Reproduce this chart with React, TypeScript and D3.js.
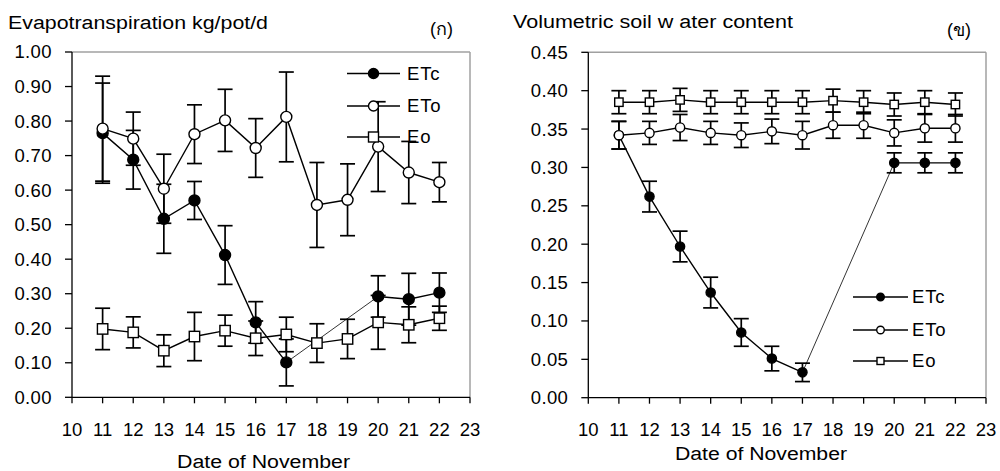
import React from "react";
import * as d3 from "d3";

// ---------- data ----------
const dayTicks = [10, 11, 12, 13, 14, 15, 16, 17, 18, 19, 20, 21, 22, 23];
const allDays = [11, 12, 13, 14, 15, 16, 17, 18, 19, 20, 21, 22];
const etcDays = [11, 12, 13, 14, 15, 16, 17, 20, 21, 22];

// Panel (ก) evapotranspiration kg/pot/d
const etTicks = [0, 0.1, 0.2, 0.3, 0.4, 0.5, 0.6, 0.7, 0.8, 0.9, 1.0];
const etcET = [0.765, 0.688, 0.517, 0.57, 0.412, 0.217, 0.101, 0.292, 0.284, 0.303];
const etcETErr = [0.145, 0.085, 0.1, 0.055, 0.085, 0.06, 0.068, 0.06, 0.075, 0.057];
const etoET = [0.778, 0.749, 0.604, 0.762, 0.802, 0.722, 0.812, 0.557, 0.572, 0.726, 0.651, 0.623];
const etoETErr = [0.152, 0.077, 0.1, 0.085, 0.09, 0.085, 0.13, 0.123, 0.104, 0.13, 0.09, 0.057];
const eoET = [0.198, 0.188, 0.135, 0.176, 0.193, 0.171, 0.182, 0.157, 0.169, 0.217, 0.21, 0.229];
const eoETErr = [0.06, 0.045, 0.046, 0.07, 0.045, 0.05, 0.05, 0.056, 0.057, 0.078, 0.052, 0.035];

// Panel (ข) volumetric soil water content
const swTicks = [0, 0.05, 0.1, 0.15, 0.2, 0.25, 0.3, 0.35, 0.4, 0.45];
const etcSW = [0.342, 0.262, 0.197, 0.137, 0.085, 0.051, 0.033, 0.306, 0.306, 0.306];
const etcSWErr = [0.018, 0.02, 0.02, 0.02, 0.018, 0.016, 0.012, 0.013, 0.013, 0.013];
const etoSW = [0.342, 0.345, 0.352, 0.345, 0.342, 0.347, 0.342, 0.355, 0.355, 0.345, 0.351, 0.351];
const etoSWErr = [0.018, 0.015, 0.017, 0.015, 0.016, 0.016, 0.018, 0.017, 0.017, 0.017, 0.018, 0.018];
const eoSW = [0.385, 0.385, 0.388, 0.385, 0.385, 0.385, 0.385, 0.387, 0.385, 0.382, 0.385, 0.382];
const eoSWErr = [0.015, 0.015, 0.015, 0.015, 0.015, 0.015, 0.015, 0.015, 0.015, 0.015, 0.015, 0.015];

const seriesNames = ["ETc", "ETo", "Eo"];

const FONT = "'Liberation Sans', Arial, sans-serif";

type Pt = { d: number; v: number; e: number };
type Series = { name: string; kind: "filled" | "open" | "square"; pts: Pt[]; gap?: [number, number] };

const zip = (days: number[], vals: number[], errs: number[]): Pt[] =>
  days.map((d, i) => ({ d, v: vals[i], e: errs[i] }));

function Marker({ kind, x, y, r }: { kind: string; x: number; y: number; r: number }) {
  if (kind === "square")
    return <rect x={x - r} y={y - r} width={2 * r} height={2 * r} fill="#fff" stroke="#000" strokeWidth={1.4} />;
  return <circle cx={x} cy={y} r={r} fill={kind === "filled" ? "#000" : "#fff"} stroke="#000" strokeWidth={1.4} />;
}

type PanelProps = {
  x0: number; x1: number; y0: number; y1: number;
  yMax: number; yTicks: number[]; yFmt: (v: number) => string;
  series: Series[]; mr: number; sr: number;
  legend: { x1: number; x2: number; tx: number; ys: number[]; mr: number; sr: number };
  title: string; titleX: number; titleY: number; titleW: number;
  tag: string; tagX: number; tagY: number;
  xlab: string; xlabX: number; xlabY: number; xlabW: number;
};

function Panel(p: PanelProps) {
  const x = d3.scaleLinear().domain([10, 23]).range([p.x0, p.x1]);
  const y = d3.scaleLinear().domain([0, p.yMax]).range([p.y1, p.y0]);
  const line = d3.line<Pt>().x((q) => x(q.d)).y((q) => y(q.v));
  const cap = 7.5;
  return (
    <g>
      {/* frame */}
      <line x1={p.x0} x2={p.x1} y1={p.y0} y2={p.y0} stroke="#a0a0a0" strokeWidth={1.5} />
      <line x1={p.x1} x2={p.x1} y1={p.y0} y2={p.y1} stroke="#a0a0a0" strokeWidth={1.5} />
      <line x1={p.x0} x2={p.x0} y1={p.y0} y2={p.y1} stroke="#000" strokeWidth={1.3} />
      <line x1={p.x0} x2={p.x1} y1={p.y1} y2={p.y1} stroke="#000" strokeWidth={1.3} />
      {p.yTicks.map((t) => (
        <g key={"y" + t}>
          <line x1={p.x0 - 7} x2={p.x0} y1={y(t)} y2={y(t)} stroke="#000" strokeWidth={1.3} />
          <text x={p.x0 - 20} y={y(t)} dy="0.35em" textAnchor="end" fontSize={18.5} fontFamily={FONT} letterSpacing={0.4}>
            {p.yFmt(t)}
          </text>
        </g>
      ))}
      {dayTicks.map((t) => (
        <g key={"x" + t}>
          <line x1={x(t)} x2={x(t)} y1={p.y1} y2={p.y1 + 6} stroke="#000" strokeWidth={1.3} />
          <text x={x(t)} y={436} textAnchor="middle" fontSize={18.5} fontFamily={FONT}>
            {t}
          </text>
        </g>
      ))}
      {/* series */}
      {p.series.map((s) => {
        const g = s.gap;
        const segs: Pt[][] = [];
        if (g) {
          segs.push(s.pts.filter((q) => q.d <= g[0]));
          segs.push(s.pts.filter((q) => q.d >= g[1]));
        } else segs.push(s.pts);
        const a = g ? s.pts.find((q) => q.d === g[0]) : undefined;
        const b = g ? s.pts.find((q) => q.d === g[1]) : undefined;
        return (
          <g key={s.name}>
            {s.pts.map((q) => (
              <g key={q.d} stroke="#000" strokeWidth={1.7}>
                <line x1={x(q.d)} x2={x(q.d)} y1={y(q.v - q.e)} y2={y(q.v + q.e)} />
                <line x1={x(q.d) - cap} x2={x(q.d) + cap} y1={y(q.v + q.e)} y2={y(q.v + q.e)} />
                <line x1={x(q.d) - cap} x2={x(q.d) + cap} y1={y(q.v - q.e)} y2={y(q.v - q.e)} />
              </g>
            ))}
            {segs.map((sg, i) => (
              <path key={i} d={line(sg) || ""} fill="none" stroke="#000" strokeWidth={1.4} />
            ))}
            {a && b && (
              <line x1={x(a.d)} y1={y(a.v)} x2={x(b.d)} y2={y(b.v)} stroke="#000" strokeWidth={0.8} />
            )}
            {s.pts.map((q) => (
              <Marker key={"m" + q.d} kind={s.kind} x={x(q.d)} y={y(q.v)} r={s.kind === "square" ? p.sr : p.mr} />
            ))}
          </g>
        );
      })}
      {/* legend */}
      {p.series.map((s, i) => (
        <g key={"l" + s.name}>
          <line x1={p.legend.x1} x2={p.legend.x2} y1={p.legend.ys[i]} y2={p.legend.ys[i]} stroke="#000" strokeWidth={1.4} />
          <Marker
            kind={s.kind}
            x={(p.legend.x1 + p.legend.x2) / 2}
            y={p.legend.ys[i]}
            r={s.kind === "square" ? p.legend.sr : p.legend.mr}
          />
          <text x={p.legend.tx} y={p.legend.ys[i]} dy="0.35em" fontSize={18.5} fontFamily={FONT} letterSpacing={0.8}>
            {s.name}
          </text>
        </g>
      ))}
      <text x={p.titleX} y={p.titleY} fontSize={18} fontFamily={FONT} textLength={p.titleW} lengthAdjust="spacingAndGlyphs">
        {p.title}
      </text>
      <text x={p.tagX} y={p.tagY} fontSize={18} fontFamily={FONT}>
        {p.tag}
      </text>
      <text x={p.xlabX - p.xlabW / 2} y={p.xlabY} fontSize={18} fontFamily={FONT} textLength={p.xlabW} lengthAdjust="spacingAndGlyphs">
        {p.xlab}
      </text>
    </g>
  );
}

export default function App() {
  const leftSeries: Series[] = [
    { name: seriesNames[0], kind: "filled", pts: zip(etcDays, etcET, etcETErr), gap: [17, 20] },
    { name: seriesNames[1], kind: "open", pts: zip(allDays, etoET, etoETErr) },
    { name: seriesNames[2], kind: "square", pts: zip(allDays, eoET, eoETErr) },
  ];
  const rightSeries: Series[] = [
    { name: seriesNames[0], kind: "filled", pts: zip(etcDays, etcSW, etcSWErr), gap: [17, 20] },
    { name: seriesNames[1], kind: "open", pts: zip(allDays, etoSW, etoSWErr) },
    { name: seriesNames[2], kind: "square", pts: zip(allDays, eoSW, eoSWErr) },
  ];
  return (
    <svg width={1000} height={471} style={{ position: "absolute", left: 0, top: 0, background: "#fff" }}>
      <rect width={1000} height={471} fill="#fff" />
      <Panel
        x0={72} x1={470} y0={52} y1={397.3}
        yMax={1} yTicks={etTicks} yFmt={d3.format(".2f")}
        series={leftSeries} mr={5.5} sr={5.2}
        legend={{ x1: 347, x2: 400, tx: 407, ys: [73.5, 106, 137], mr: 5, sr: 5 }}
        title="Evapotranspiration kg/pot/d" titleX={8} titleY={29} titleW={260}
        tag="(ก)" tagX={430} tagY={35}
        xlab="Date of November" xlabX={263.5} xlabY={468} xlabW={173}
      />
      <Panel
        x0={588.3} x1={986} y0={52.3} y1={397.7}
        yMax={0.45} yTicks={swTicks} yFmt={d3.format(".2f")}
        series={rightSeries} mr={4.6} sr={4.2}
        legend={{ x1: 853, x2: 908, tx: 912, ys: [297, 330, 361], mr: 3.8, sr: 3.5 }}
        title="Volumetric soil w ater content" titleX={513} titleY={27.5} titleW={280}
        tag="(ข)" tagX={947} tagY={36}
        xlab="Date of November" xlabX={761} xlabY={460} xlabW={172}
      />
    </svg>
  );
}
